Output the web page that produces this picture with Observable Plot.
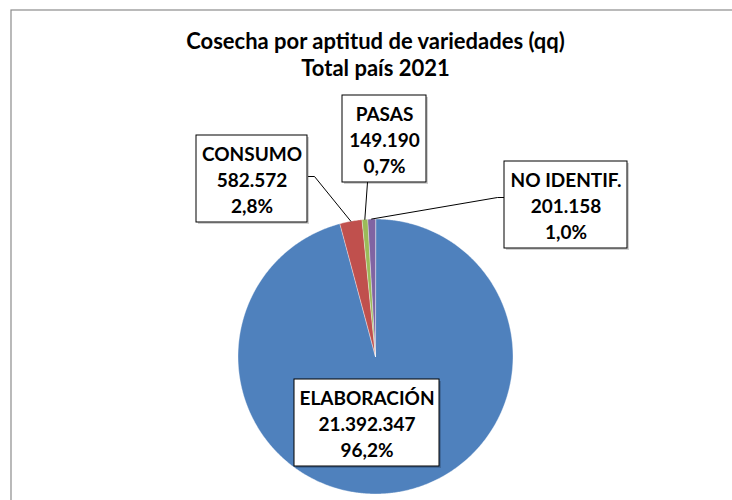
<!DOCTYPE html>
<html><head><meta charset="utf-8">
<script src="https://cdn.jsdelivr.net/npm/d3@7"></script>
<script src="https://cdn.jsdelivr.net/npm/@observablehq/plot@0.6"></script>
<style>
html,body{margin:0;padding:0;background:#fff;overflow:hidden}
svg{display:block}
</style>
</head><body><div id="chart"></div>
<script>
// ---- data ----
const categories = ["ELABORACIÓN", "CONSUMO", "PASAS", "NO IDENTIF."];
const values = [21392347, 582572, 149190, 201158];
const valueLabels = ["21.392.347", "582.572", "149.190", "201.158"];
const pctLabels = ["96,2%", "2,8%", "0,7%", "1,0%"];
const titleLines = ["Cosecha por aptitud de variedades (qq)", "Total país 2021"];

// ---- styles / layout ----
const palette = ["#4F81BD", "#C0504D", "#9BBB59", "#8064A2"];
const FONT = "Lato, 'Open Sans', sans-serif";
const W = 732, H = 500;
const CX = 375, CY = 356, R = 137.5;
const boxes = [
  {x1: 294, x2: 439, y1: 379, y2: 466},
  {x1: 196, x2: 307, y1: 135, y2: 222},
  {x1: 342, x2: 426, y1: 95, y2: 182},
  {x1: 504, x2: 627, y1: 161, y2: 248}
];
// leader starting points at the label boxes (null = no leader)
const leaderStarts = [
  null,
  [[308, 176], [314, 176]],
  [[367, 182]],
  [[504, 197], [497, 197]]
];

// ---- pie geometry from data ----
const arcs = d3.pie().sort(null).value(d => d)(values);
const wedgePts = [];
arcs.forEach((p, i) => {
  const n = Math.max(2, Math.ceil((p.endAngle - p.startAngle) / (Math.PI / 360)));
  wedgePts.push({k: i, x: CX, y: CY});
  for (let j = 0; j <= n; j++) {
    const a = p.startAngle + (p.endAngle - p.startAngle) * j / n;
    wedgePts.push({k: i, x: CX + R * Math.sin(a), y: CY - R * Math.cos(a)});
  }
});
const leaderPts = [];
arcs.forEach((p, i) => {
  if (!leaderStarts[i]) return;
  leaderStarts[i].forEach(([x, y]) => leaderPts.push({k: i, x, y}));
  const m = (p.startAngle + p.endAngle) / 2;
  leaderPts.push({k: i, x: CX + R * Math.sin(m), y: CY - R * Math.cos(m)});
});
const labelData = categories.map((c, i) => ({
  k: i,
  text: `${c}\n${valueLabels[i]}\n${pctLabels[i]}`,
  cx: (boxes[i].x1 + boxes[i].x2) / 2,
  cy: (boxes[i].y1 + boxes[i].y2) / 2,
  ...boxes[i]
}));

const chart = Plot.plot({
  width: W, height: H,
  margin: 0,
  x: {domain: [0, W], range: [0, W], axis: null},
  y: {domain: [0, H], range: [0, H], axis: null},
  style: {fontFamily: FONT, background: "#fff"},
  marks: [
    Plot.rect([{x1: 11, y1: 10, x2: W + 20, y2: H + 20}], {x1: "x1", x2: "x2", y1: "y1", y2: "y2", fill: "none", stroke: "#8c8c8c", strokeWidth: 1.2}),
    ...categories.map((c, i) => Plot.line(wedgePts.filter(d => d.k === i), {
      x: "x", y: "y", curve: "linear-closed",
      fill: palette[i], stroke: "#ffffff", strokeOpacity: 0.55, strokeWidth: 0.7
    })),
    Plot.line(leaderPts, {x: "x", y: "y", z: "k", stroke: "#000", strokeWidth: 1}),
    Plot.rect(labelData, {x1: d => d.x1 + 2, x2: d => d.x2 + 2, y1: d => d.y1 + 2, y2: d => d.y2 + 2, fill: "#000", fillOpacity: 0.18}),
    Plot.rect(labelData, {x1: "x1", x2: "x2", y1: "y1", y2: "y2", fill: "#fff", stroke: "#000", strokeWidth: 1}),
    Plot.text(labelData, {x: "cx", y: "cy", text: "text", fontSize: 19, fontWeight: "bold", lineHeight: 1.37, fill: "#000"}),
    Plot.text(titleLines, {x: () => 375, y: (d, i) => [41.5, 68.5][i], text: d => d, fontSize: 22, fontWeight: "bold", fill: "#000"})
  ]
});
document.getElementById("chart").appendChild(chart);
</script>
</body></html>
